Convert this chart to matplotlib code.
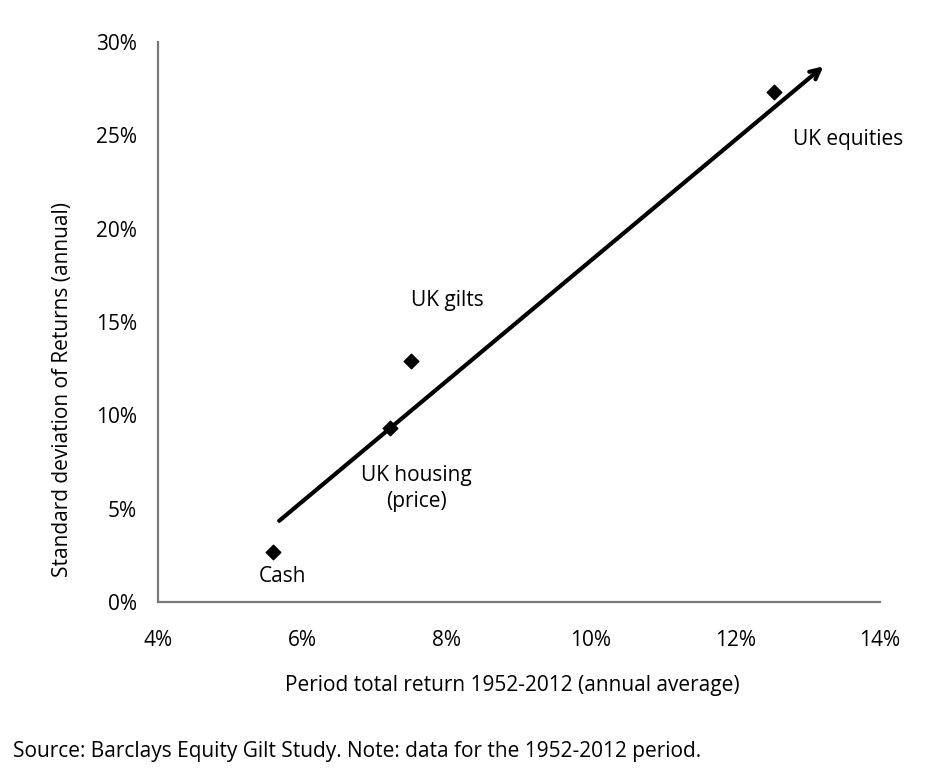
import matplotlib.pyplot as plt
from matplotlib.ticker import FuncFormatter

# asset classes: average annual return vs. standard deviation (both in %)
assets = ['Cash', 'UK housing\n(price)', 'UK gilts', 'UK equities']
returns = [5.59, 7.21, 7.51, 12.54]
std_devs = [2.68, 9.3, 12.9, 27.3]

# trend arrow endpoints (x, y)
trend_start = (5.68, 4.35)
trend_end = (13.22, 28.7)

x_ticks = [4, 6, 8, 10, 12, 14]
y_ticks = [0, 5, 10, 15, 20, 25, 30]

FONT = ['Open Sans', 'DejaVu Sans']
GREY = '#7a7a7a'
FS = 15

plt.rcParams['font.family'] = FONT

fig = plt.figure(figsize=(9.26, 7.79), dpi=100)
ax = fig.add_axes([0.1706, 0.2272, 0.7794, 0.7188])

ax.scatter(returns, std_devs, marker='D', s=55, color='black', zorder=3)

ax.annotate('', xy=trend_end, xytext=trend_start,
            arrowprops=dict(arrowstyle='->,head_length=0.7,head_width=0.35',
                            lw=3, color='black', shrinkA=0, shrinkB=0))

# label offsets in points relative to each marker
offsets = {
    'Cash': (7, -18),
    'UK housing\n(price)': (19, -43),
    'UK gilts': (26, 44),
    'UK equities': (53, -34),
}
for name, x, y in zip(assets, returns, std_devs):
    ax.annotate(name, (x, y), xytext=offsets[name], textcoords='offset points',
                ha='center', va='center', fontsize=FS, linespacing=1.3)

ax.set_xlim(4, 14)
ax.set_ylim(0, 30)
ax.set_xticks(x_ticks)
ax.set_yticks(y_ticks)
pct = FuncFormatter(lambda v, _: f'{v:.0f}%')
ax.xaxis.set_major_formatter(pct)
ax.yaxis.set_major_formatter(pct)
ax.tick_params(length=0, labelsize=FS, pad=15)
ax.tick_params(axis='x', pad=20)

for side in ('top', 'right'):
    ax.spines[side].set_visible(False)
for side in ('left', 'bottom'):
    ax.spines[side].set_color(GREY)
    ax.spines[side].set_linewidth(1.6)

ax.set_ylabel('Standard deviation of Returns (annual)', fontsize=FS)
ax.yaxis.set_label_coords(63 / 926, 0.5, transform=fig.transFigure)
ax.yaxis.label.set_va('center')
fig.text(512 / 926, 1 - 686 / 779, 'Period total return 1952-2012 (annual average)',
         ha='center', va='center', fontsize=FS)
fig.text(13 / 926, 1 - 752 / 779,
         'Source: Barclays Equity Gilt Study. Note: data for the 1952-2012 period.',
         ha='left', va='center', fontsize=15)

fig.savefig('out.png', dpi=100)
